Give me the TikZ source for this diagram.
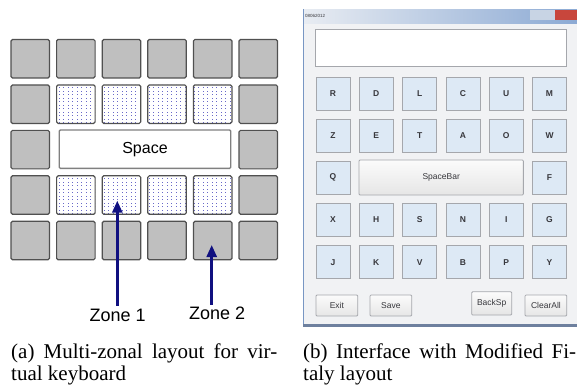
\documentclass[tikz,border=0pt]{standalone}
\usepackage{fontspec}
\setmainfont{Liberation Serif}
\newfontfamily\arialfont{Liberation Sans}
\usetikzlibrary{arrows.meta,patterns,positioning}

\definecolor{keygray}{RGB}{191,191,191}
\definecolor{keyedge}{RGB}{80,80,80}
\definecolor{dotblue}{RGB}{105,105,200}
\definecolor{zoneblue}{RGB}{16,16,128}
\definecolor{winback}{RGB}{241,242,244}
\definecolor{fitaly}{RGB}{221,233,245}
\definecolor{fitedge}{RGB}{165,167,172}
\definecolor{fittext}{RGB}{55,55,60}
\definecolor{titleleft}{RGB}{232,236,242}
\definecolor{titleright}{RGB}{140,170,212}
\definecolor{minmax}{RGB}{200,212,228}
\definecolor{closered}{RGB}{200,70,60}
\definecolor{frameblue}{RGB}{120,150,195}
\definecolor{framebottom}{RGB}{110,128,158}

% small dots, wider apart across than down
\pgfdeclarepatternformonly{zonedots}{\pgfqpoint{-1pt}{-1pt}}{\pgfqpoint{5pt}{4pt}}{\pgfqpoint{4.5pt}{3.5pt}}
{\pgfpathrectangle{\pgfqpoint{0pt}{0pt}}{\pgfqpoint{1pt}{0.75pt}}\pgfusepath{fill}}

\tikzset{
  graykey/.style={draw=keyedge, fill=keygray, line width=1.2pt, rounded corners=1.5pt,
    minimum size=38.5pt, inner sep=0pt},
  dotkey/.style={graykey, pattern=zonedots, pattern color=dotblue},
  spacekey/.style={draw=gray, fill=white, line width=1.3pt, rounded corners=1pt,
    minimum width=171.4pt, minimum height=38.3pt, font=\arialfont\fontsize{16}{18}\selectfont},
  zonelabel/.style={anchor=base, inner sep=3.3pt, font=\arialfont\fontsize{18}{20}\selectfont},
  zonearrow/.style={zoneblue, line width=2.6pt, -{Triangle[length=12pt,width=10pt]}},
  fkey/.style={draw=fitedge, fill=fitaly, line width=0.8pt, minimum width=34pt,
    minimum height=33pt, inner sep=0pt, text=fittext,
    font=\arialfont\bfseries\fontsize{8.5}{10}\selectfont},
  winbutton/.style={draw=fitedge, top color=white!97!gray, bottom color=white!80!gray,
    line width=0.8pt, rounded corners=1pt, inner sep=0pt, text=fittext,
    font=\arialfont\fontsize{8.5}{10}\selectfont},
  caption/.style={anchor=base west, inner sep=0pt, font=\fontsize{21}{23}\selectfont}
}

\begin{document}
\begin{tikzpicture}[x=1pt,y=-1pt]
\useasboundingbox (0,0) rectangle (577,389);

% (a) zones of the keyboard
\foreach \r in {1,...,5}
  \foreach \c in {1,6}
    \node[graykey] (k\r\c) at ({30.25+45.6*(\c-1)},{58.7+45.45*(\r-1)}) {};
\foreach \r in {1,5}
  \foreach \c in {2,...,5}
    \node[graykey] (k\r\c) at ({30.25+45.6*(\c-1)},{58.7+45.45*(\r-1)}) {};
\foreach \r in {2,4}
  \foreach \c in {2,...,5}
    \node[dotkey] (k\r\c) at ({30.25+45.6*(\c-1)},{58.7+45.45*(\r-1)}) {};
\node[spacekey] (space) at (145,149.2) {Space};

\node[zonelabel] (z1) at (117.7,321.7) {Zone 1};
\node[zonelabel] (z2) at (217.2,319.3) {Zone 2};
\coordinate (t1) at (117.3,200.7);
\coordinate (t2) at (211.7,245);
\draw[zonearrow] (z1.north -| t1) -- (t1);
\draw[zonearrow] ([yshift=-1.5pt]z2.north -| t2) -- (t2);

% (b) the application window
\fill[winback] (303,9) rectangle (577,327);
\shade[left color=titleleft, right color=titleright] (303,9) rectangle (577,23);
\fill[minmax] (530,10) rectangle (555,20);
\fill[closered] (555,10) rectangle (577,20);
\node[anchor=west, inner sep=0pt, text=fittext, font=\arialfont\fontsize{4.5}{5}\selectfont]
  (title) at (305,15.5) {08062012};
\draw[frameblue, line width=1.2pt] (303.5,9) -- (303.5,327);
\draw[framebottom, line width=2.5pt] (303,325.5) -- (577,325.5);

\node[draw=fitedge, fill=white, line width=0.9pt, minimum width=251.7pt, minimum height=37.4pt]
  (display) at (440.85,48) {};

\foreach \ltr [count=\i] in {R,D,L,C,U,M}
  \node[fkey] (f\ltr) at ({333+43.3*(\i-1)},93.7) {\ltr};
\foreach \ltr [count=\i] in {Z,E,T,A,O,W}
  \node[fkey] (f\ltr) at ({333+43.3*(\i-1)},135.5) {\ltr};
\node[fkey] (fQ) at (333,177.5) {Q};
\node[fkey] (fF) at (549.5,177.5) {F};
\foreach \ltr [count=\i] in {X,H,S,N,I,G}
  \node[fkey] (f\ltr) at ({333+43.3*(\i-1)},220) {\ltr};
\foreach \ltr [count=\i] in {J,K,V,B,P,Y}
  \node[fkey] (f\ltr) at ({333+43.3*(\i-1)},262.2) {\ltr};
\node[winbutton, minimum width=164.3pt, minimum height=35pt] (spacebar) at (441.2,177.5) {SpaceBar};

\node[winbutton, minimum width=41.7pt, minimum height=21pt] (exit) at (336.9,305.5) {Exit};
\node[winbutton, minimum width=41.7pt, minimum height=21pt] (save) at (390.9,305.5) {Save};
\node[winbutton, minimum width=40pt, minimum height=23.3pt] (backsp) at (491.7,303.4) {BackSp};
\node[winbutton, minimum width=41.7pt, minimum height=21pt] (clearall) at (545.9,305.5) {ClearAll};

% captions
\node[caption] (capa) at (11,358) {\makebox[266pt][s]{(a) Multi-zonal layout for vir-}};
\node[caption] (capa2) at (11,380) {tual keyboard};
\node[caption] (capb) at (303,358) {\makebox[273pt][s]{(b) Interface with Modified Fi-}};
\node[caption] (capb2) at (303,380) {taly layout};
\end{tikzpicture}
\end{document}
